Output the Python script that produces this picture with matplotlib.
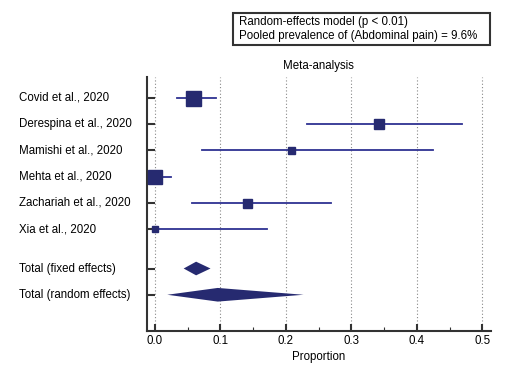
import numpy as np
import matplotlib
matplotlib.use("Agg")
import matplotlib.pyplot as plt
import matplotlib.transforms as mtransforms
from matplotlib.patches import Rectangle
from matplotlib.ticker import MultipleLocator

plt.rcParams['font.family'] = ['Liberation Sans', 'DejaVu Sans']
FS = 8.3

studies = ['Covid et al., 2020', 'Derespina et al., 2020', 'Mamishi et al., 2020',
           'Mehta et al., 2020', 'Zachariah et al., 2020', 'Xia et al., 2020']
est = [0.059, 0.342, 0.208, 0.0, 0.140, 0.0]
lo = [0.034, 0.233, 0.072, 0.0, 0.057, 0.0]
hi = [0.094, 0.469, 0.425, 0.024, 0.269, 0.171]
weight = [15, 10, 7, 14, 9, 6]  # box size, px

pooled_labels = ['Total (fixed effects)', 'Total (random effects)']
pooled_est = [0.063, 0.096]
pooled_lo = [0.044, 0.019]
pooled_hi = [0.085, 0.227]

line_col = '#2e3192'
box_col = '#262a70'

fig = plt.figure(figsize=(5.06, 3.69), dpi=100)
ax = fig.add_axes([0.2905, 0.103, 0.6795, 0.688])

ypos = np.arange(1, len(studies) + 1)
ypool = [7.5, 8.5]

for x in np.arange(0, 0.51, 0.1):
    ax.axvline(x, color='#888888', lw=0.8, ls=(0, (1, 2)), zorder=0)

for y, e, l, h, w in zip(ypos, est, lo, hi, weight):
    ax.plot([l, h], [y, y], color=line_col, lw=1.3, zorder=2)
    ax.plot(e, y, marker='s', ms=w * 72 / 100, color=box_col, mec=box_col, zorder=3)

for y, e, l, h in zip(ypool, pooled_est, pooled_lo, pooled_hi):
    ax.fill([l, e, h, e], [y, y - 0.26, y, y + 0.26], color=box_col, lw=0, zorder=3)

ax.set_xlim(-0.012, 0.513)
ax.set_ylim(9.88, 0.21)
ax.set_yticks(list(ypos) + ypool)
ax.set_yticklabels([])
ax.tick_params(axis='y', direction='in', length=6, width=1.5, color='#333333')

# row labels, left aligned at the figure margin
trans = mtransforms.blended_transform_factory(fig.transFigure, ax.transData)
for y, lab in zip(list(ypos) + ypool, studies + pooled_labels):
    ax.text(0.037, y, lab, transform=trans, fontsize=FS, ha='left', va='center',
            clip_on=False)

ax.xaxis.set_major_locator(MultipleLocator(0.1))
ax.xaxis.set_minor_locator(MultipleLocator(0.05))
ax.set_xticklabels([f'{v:.1f}' for v in ax.get_xticks()])
ax.tick_params(axis='x', which='major', direction='in', length=5, width=1.5,
               color='#333333', labelsize=FS, pad=3)
ax.tick_params(axis='x', which='minor', direction='in', length=3, width=0.8, color='#333333')

for s in ['top', 'right']:
    ax.spines[s].set_visible(False)
for s in ['left', 'bottom']:
    ax.spines[s].set_linewidth(1.5)
    ax.spines[s].set_color('#333333')

ax.set_xlabel('Proportion', fontsize=FS, labelpad=3)
ax.set_title('Meta-analysis', fontsize=FS, pad=6)

# summary box
fig.patches.append(Rectangle((233 / 506, 1 - 45 / 369), 257 / 506, 32 / 369,
                             transform=fig.transFigure, fc='white', ec='#333333', lw=1.5))
fig.text(239 / 506, 1 - 29 / 369,
         'Random-effects model (p < 0.01)\nPooled prevalence of (Abdominal pain) = 9.6%',
         fontsize=FS, va='center', ha='left', linespacing=1.2)

fig.savefig('out.png', dpi=100)
